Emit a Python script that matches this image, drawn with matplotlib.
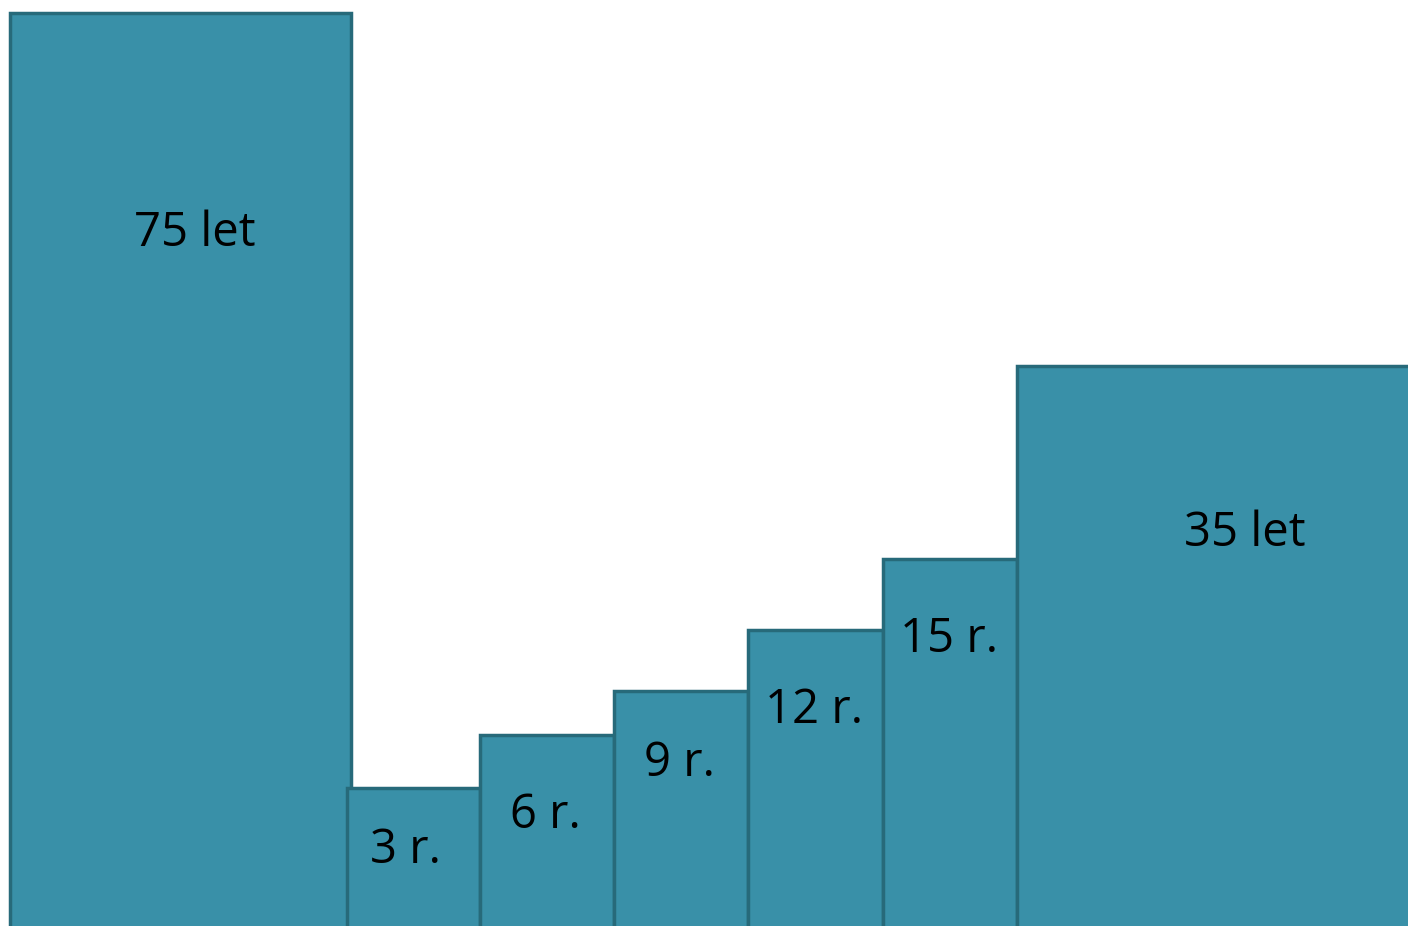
import matplotlib
matplotlib.use("Agg")
import matplotlib.pyplot as plt

# data: stepped blocks (left edge, width, height in pixels)
labels = ["75 let", "3 r.", "6 r.", "9 r.", "12 r.", "15 r.", "35 let"]
lefts = [10, 347, 480, 614, 748, 883, 1017]
widths = [341, 133, 134, 134, 135, 134, 460]
heights = [913, 138, 191, 235, 296, 367, 560]

# where the labels sit
label_x = [195, 405, 545, 680, 814, 949, 1245]
label_y = [693, 76, 111, 163, 216, 287, 393]

plt.rcParams["font.family"] = ["Open Sans", "DejaVu Sans"]

fig = plt.figure(figsize=(14.08, 9.26), dpi=100)
ax = fig.add_axes([0, 0, 1, 1])

for l, w, h in zip(lefts, widths, heights):
    ax.bar(l, h + 10, width=w, bottom=-10, align="edge",
           color="#3990a8", edgecolor="#276a7a", linewidth=2.5)

for t, x, y in zip(labels, label_x, label_y):
    ax.text(x, y, t, ha="center", va="center", fontsize=34, color="black")

ax.set_xlim(0, 1408)
ax.set_ylim(0, 926)
ax.axis("off")

fig.savefig("out.png", dpi=100)
